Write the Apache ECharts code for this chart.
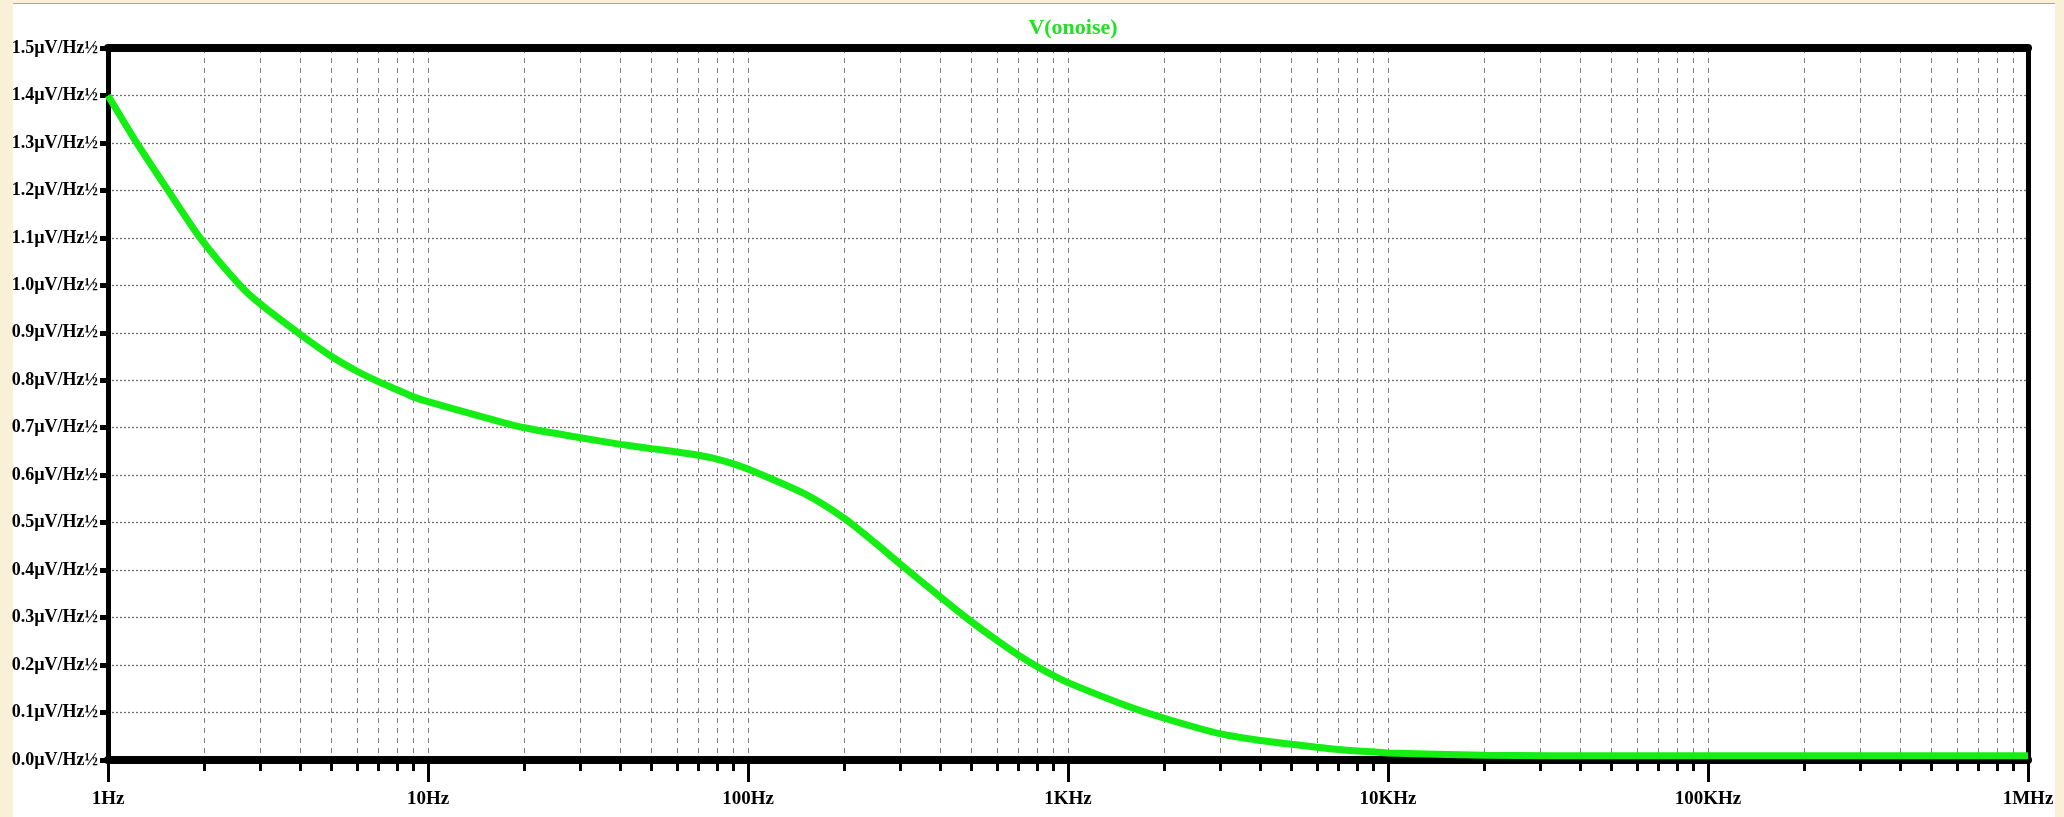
<!DOCTYPE html>
<html>
<head>
<meta charset="utf-8">
<script src="https://cdn.jsdelivr.net/npm/echarts@6/dist/echarts.min.js"></script>
<style>
    html, body {
        margin: 0;
        padding: 0;
        background: #faf0d7;
    }
    .panel {
        position: absolute;
        left: 13px;
        top: 3px;
        width: 2042px;
        height: 814px;
        background: #ffffff;
        border-top: 1px solid #a8a8a0;
    }
    .noise-chart {
        position: absolute;
        left: 0;
        top: 0;
        width: 2064px;
        height: 817px;
    }
</style>
</head>
<body>
<div class="panel"></div>
<div class="noise-chart"></div>

<script>
// frequency (Hz) / output noise (µV/Hz½)
const freqs = [1, 1.23, 1.54, 1.94, 2.585, 3, 4, 5, 6, 7, 8, 9, 10, 15, 20, 30, 40, 50, 60,
    70, 80, 90, 100, 150, 200, 250, 300, 400, 500, 600, 700, 800, 900, 1000, 1500, 2000,
    3000, 4000, 5000, 6000, 7000, 8000, 10000, 20000, 50000, 100000, 1000000];
const noise = [1.40, 1.30, 1.20, 1.10, 1.00, 0.96, 0.896, 0.85, 0.819, 0.797, 0.78, 0.765,
    0.755, 0.722, 0.70, 0.679, 0.665, 0.656, 0.649, 0.642, 0.634, 0.624, 0.613, 0.561,
    0.509, 0.457, 0.412, 0.343, 0.291, 0.252, 0.221, 0.197, 0.178, 0.163, 0.116, 0.088,
    0.055, 0.041, 0.033, 0.027, 0.022, 0.019, 0.015, 0.01, 0.009, 0.009, 0.009];

const xTickLabels = ["1Hz", "10Hz", "100Hz", "1KHz", "10KHz", "100KHz", "1MHz"];
const yTickLabels = ["0.0µV/Hz½", "0.1µV/Hz½", "0.2µV/Hz½", "0.3µV/Hz½", "0.4µV/Hz½",
    "0.5µV/Hz½", "0.6µV/Hz½", "0.7µV/Hz½", "0.8µV/Hz½", "0.9µV/Hz½", "1.0µV/Hz½",
    "1.1µV/Hz½", "1.2µV/Hz½", "1.3µV/Hz½", "1.4µV/Hz½", "1.5µV/Hz½"];

// log grid: 1..9 of every decade
const decades = [1, 10, 100, 1000, 10000, 100000];
const steps = [1, 2, 3, 4, 5, 6, 7, 8, 9];
const gridFreqs = [];
decades.forEach(d => steps.forEach(s => gridFreqs.push(d * s)));
gridFreqs.push(1000000);

const font = "'Liberation Serif', 'Times New Roman', serif";
const green = "#14ee14";

let myChart = echarts.init(document.querySelector(".noise-chart"));
let option = {
    animation: false,
    title: {
        text: "V(onoise)",
        left: 1068,
        top: 12,
        textAlign: "center",
        textStyle: {
            color: "#22e022",
            fontFamily: font,
            fontWeight: "bold",
            fontSize: 22
        }
    },
    grid: {
        left: 108,
        right: 36,
        top: 48,
        bottom: 57,
        containLabel: false
    },
    xAxis: [
        {
            type: "log",
            logBase: 10,
            min: 1,
            max: 1000000,
            position: "bottom",
            axisLine: { show: true, lineStyle: { color: "#000", width: 8 } },
            axisTick: { show: true, length: 22, lineStyle: { color: "#000", width: 3 } },
            axisLabel: {
                margin: 30,
                color: "#000",
                fontFamily: font,
                fontWeight: "bold",
                fontSize: 19,
                formatter: (v) => xTickLabels[Math.round(Math.log10(v))]
            },
            splitLine: { show: false }
        },
        {
            // minor ticks + dashed vertical grid
            type: "log",
            logBase: 10,
            min: 1,
            max: 1000000,
            position: "bottom",
            axisLine: { show: false },
            axisTick: {
                show: true,
                customValues: gridFreqs,
                length: 11,
                lineStyle: { color: "#000", width: 3 }
            },
            axisLabel: { show: false },
            splitLine: {
                show: true,
                lineStyle: { color: "#808080", width: 1, type: [5, 5] }
            }
        },
        {
            type: "log",
            logBase: 10,
            min: 1,
            max: 1000000,
            position: "top",
            axisLine: { show: true, lineStyle: { color: "#000", width: 8 } },
            axisTick: { show: false },
            axisLabel: { show: false },
            splitLine: { show: false }
        }
    ],
    yAxis: [
        {
            type: "value",
            min: 0,
            max: 1.5,
            interval: 0.1,
            axisLine: { show: true, lineStyle: { color: "#000", width: 5 } },
            axisTick: { show: true, length: 8, lineStyle: { color: "#000", width: 5 } },
            axisLabel: {
                margin: 10,
                color: "#000",
                fontFamily: font,
                fontWeight: "bold",
                fontSize: 18,
                formatter: (v) => yTickLabels[Math.round(v * 10)]
            },
            splitLine: {
                show: true,
                lineStyle: { color: "#707070", width: 1.3, type: [2, 2] }
            }
        },
        {
            type: "value",
            min: 0,
            max: 1.5,
            position: "right",
            axisLine: { show: true, lineStyle: { color: "#000", width: 5 } },
            axisTick: { show: false },
            axisLabel: { show: false },
            splitLine: { show: false }
        }
    ],
    series: [
        {
            type: "line",
            name: "V(onoise)",
            xAxisIndex: 0,
            yAxisIndex: 0,
            data: freqs.map((f, i) => [f, noise[i]]),
            smooth: 0.25,
            showSymbol: false,
            symbol: "none",
            lineStyle: { color: green, width: 7 },
            z: 5
        }
    ]
};

myChart.setOption(option);
</script>
</body>
</html>
